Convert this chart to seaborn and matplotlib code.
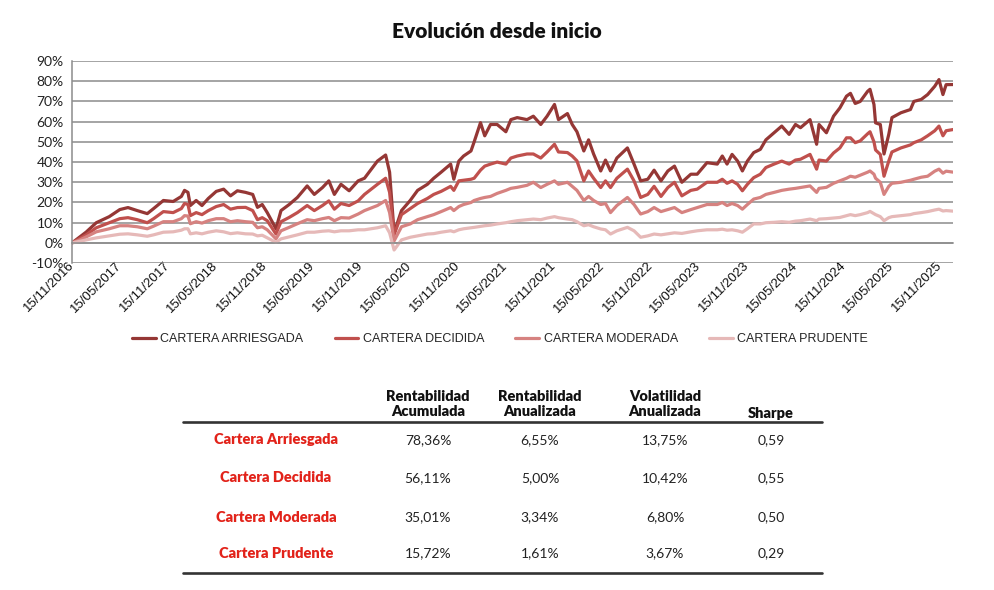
import pandas as pd
import numpy as np
import seaborn as sns
import matplotlib.pyplot as plt
import matplotlib.dates as mdates
from matplotlib.lines import Line2D
from matplotlib.ticker import FuncFormatter

# series (percent since start)
dates = ['2016-11-15', '2016-12-15', '2017-01-08', '2017-02-15', '2017-04-05', '2017-05-15', '2017-06-15',
         '2017-07-20', '2017-08-27', '2017-09-20', '2017-10-27', '2017-12-03', '2018-01-03', '2018-01-15',
         '2018-01-28', '2018-02-06', '2018-02-28', '2018-03-22', '2018-04-15', '2018-05-15', '2018-06-12',
         '2018-07-08', '2018-08-03', '2018-09-03', '2018-09-30', '2018-10-18', '2018-11-05', '2018-11-24',
         '2018-12-27', '2019-01-15', '2019-02-15', '2019-03-18', '2019-04-24', '2019-05-21', '2019-06-21',
         '2019-07-15', '2019-08-05', '2019-08-30', '2019-09-30', '2019-11-03', '2019-11-27', '2020-01-15',
         '2020-02-15', '2020-03-01', '2020-03-18', '2020-04-15', '2020-05-18', '2020-06-15', '2020-07-22',
         '2020-08-15', '2020-09-12', '2020-10-18', '2020-10-30', '2020-11-18', '2020-12-06', '2021-01-03',
         '2021-01-15', '2021-02-08', '2021-02-24', '2021-03-18', '2021-04-12', '2021-05-15', '2021-06-03',
         '2021-06-27', '2021-08-03', '2021-08-27', '2021-09-24', '2021-10-18', '2021-11-15', '2021-11-30',
         '2022-01-03', '2022-01-21', '2022-02-08', '2022-03-06', '2022-03-24', '2022-04-12', '2022-05-09',
         '2022-05-27', '2022-06-15', '2022-07-09', '2022-08-18', '2022-09-12', '2022-10-07', '2022-11-03',
         '2022-11-27', '2022-12-23', '2023-01-18', '2023-02-12', '2023-03-12', '2023-04-15', '2023-05-09',
         '2023-06-15', '2023-07-24', '2023-08-12', '2023-08-30', '2023-09-18', '2023-10-09', '2023-10-27',
         '2023-11-15', '2023-12-09', '2024-01-03', '2024-01-24', '2024-02-24', '2024-03-24', '2024-04-21',
         '2024-05-15', '2024-06-03', '2024-07-09', '2024-08-03', '2024-08-12', '2024-09-09', '2024-10-06',
         '2024-10-30', '2024-11-24', '2024-12-09', '2024-12-27', '2025-01-15', '2025-02-12', '2025-02-21',
         '2025-03-08', '2025-03-14', '2025-04-01', '2025-04-15', '2025-05-03', '2025-05-15', '2025-06-18',
         '2025-07-24', '2025-08-06', '2025-09-03', '2025-09-27', '2025-10-24', '2025-11-09', '2025-11-24',
         '2025-12-06', '2026-01-02']

arriesgada = [0, 3, 5.4, 10, 13, 16.5, 17.5, 16, 14.5, 17, 21, 20.5, 23, 26, 25, 18.5, 21, 18.5, 22, 25.5,
              26.6, 23.3, 25.8, 25, 24, 17.6, 19, 15, 7, 16, 19, 22.5, 28.2, 24, 27.4, 30.7, 24, 29, 25.8,
              30.7, 32, 40.5, 43.5, 35, 5, 16, 21, 26, 29, 32, 35, 39, 31.5, 40.5, 43, 45.5, 50, 59.5, 53,
              58.6, 58.6, 55, 61, 62, 61, 62.7, 58.6, 62.7, 68.5, 61, 64, 58.6, 55, 45.5, 51, 44, 35.6, 41,
              35.6, 42, 47, 39, 30.7, 31.5, 36, 30.7, 35.6, 38, 30, 34, 34, 39.7, 39, 43, 39, 43.8, 40.5,
              35.6, 40.5, 44.7, 46.3, 51, 54.5, 57.8, 53.7, 58.6, 57, 61, 48.8, 58.6, 54.5, 62.7, 66.8, 72.6,
              74, 69, 70, 75, 76, 68.5, 59.4, 58.6, 44, 53.7, 62, 64.4, 66, 70, 71, 73.4, 77.5, 80.8, 73.4,
              78.3, 78.36]
decidida = [0, 2.2, 4, 7.5, 10, 12, 12.5, 11.5, 10, 12, 15.5, 15, 17, 19.5, 19, 13.5, 15, 14, 16, 18,
            19, 16.7, 17.5, 17.6, 16, 11.5, 12.5, 11, 4.4, 10.5, 12.6, 15, 18.5, 16, 18.5, 20.8, 16.7, 19.5,
            18.5, 20.8, 24, 29, 32, 25, 4, 14, 17, 19.5, 22, 24, 25.5, 28, 26, 30.7, 31, 31.5, 32, 36, 38,
            39, 40, 39, 42, 43, 44, 44, 42, 45, 48.8, 45, 44.7, 43, 40.6, 30.7, 35.6, 32, 27.4, 30.7, 27.4,
            32, 36.5, 30.7, 22.5, 24, 28, 23, 27.4, 30, 23.3, 26, 26.6, 30, 30, 31.5, 29.5, 30.7, 29, 25.8,
            29, 32.3, 34, 37.3, 39, 40.5, 39, 41, 41.4, 43.8, 36.5, 41, 40.5, 44.5, 47, 52, 52, 49.6, 50.5,
            54, 55, 50, 46, 43.8, 33, 40.5, 45, 47, 48.5, 49.6, 51, 53, 55.5, 57.8, 53, 55.5, 56.11]
moderada = [0, 1.5, 3, 5.5, 7, 8.5, 8.5, 8, 7, 8.3, 10.5, 10.5, 12, 13.5, 13.3, 9.5, 10.5, 9.8, 11, 12,
            12, 10.5, 11, 10.5, 10.2, 7.5, 8, 6.5, 2, 6, 7.7, 9.5, 11.5, 11, 12, 12.6, 11, 12.5, 12.3, 14.3,
            16, 18.5, 21, 15, 1, 8, 9.4, 11.5, 13, 14, 15.5, 17.5, 16, 18, 19, 20, 21, 22, 22.5, 23, 24.5,
            26, 27, 27.5, 28.5, 30, 27.4, 29, 30.7, 29, 30, 28, 26, 21, 23, 21, 19, 19.5, 15, 18.5, 22.5, 19,
            14.3, 15.5, 17.5, 15.5, 16.5, 17.5, 15, 16.5, 17.5, 19, 19, 20, 18.5, 19.5, 18.5, 16.7, 19, 21.7,
            22.5, 24, 25, 26, 26.6, 27, 27.4, 28.2, 25, 27, 27.5, 29.5, 30.7, 32, 33, 32.5, 33.5, 35, 35.6,
            34, 32, 30, 24, 28, 29.5, 30, 31, 31.5, 32.5, 33, 35.5, 36.5, 34.5, 35.5, 35.01]
prudente = [0, 0.8, 1.5, 2.5, 3.5, 4.3, 4.5, 4, 3.3, 4, 5.3, 5.5, 6.3, 7, 7, 4.5, 5, 4.5, 5.3, 6, 5.5,
            4.6, 5, 4.5, 4.4, 3.5, 3.8, 2.5, 0.3, 2, 3, 4, 5.3, 5.3, 5.8, 6, 5.5, 6, 6, 6.5, 6.5, 7.5, 8.5,
            5, -3.5, 1.5, 2.8, 3.5, 4.4, 4.6, 5.3, 6, 5.5, 6.5, 7, 7.5, 7.7, 8.2, 8.5, 8.8, 9.4, 10, 10.5,
            11, 11.5, 11.8, 11.5, 12.3, 13, 12.5, 11.8, 11.5, 10.5, 8.5, 9, 8, 6.9, 6.5, 4.4, 6, 7.7, 6, 2.8,
            3.5, 4.4, 4, 4.5, 5, 4.7, 5.5, 6, 6.5, 6.5, 6.8, 6.3, 6.5, 6, 5.3, 7, 9.4, 9.4, 10, 10.2, 10.5,
            10.2, 10.8, 11, 11.8, 11, 11.8, 12, 12.3, 12.6, 13.5, 14, 13.5, 14, 15, 15.6, 14.5, 14, 13, 11,
            12.5, 13, 13.5, 14, 14.5, 15, 15.5, 16.3, 16.7, 15.8, 16, 15.72]

series_names = ['CARTERA ARRIESGADA', 'CARTERA DECIDIDA', 'CARTERA MODERADA', 'CARTERA PRUDENTE']
colors = ['#953735', '#C0504D', '#D68280', '#E6B9B8']

tick_dates = pd.date_range('2016-11-15', '2025-11-15', freq=pd.DateOffset(months=6))

# summary table
row_labels = ['Cartera Arriesgada', 'Cartera Decidida', 'Cartera Moderada', 'Cartera Prudente']
col_headers = ['Rentabilidad\nAcumulada', 'Rentabilidad\nAnualizada', 'Volatilidad\nAnualizada', 'Sharpe']
rent_acumulada = ['78,36%', '56,11%', '35,01%', '15,72%']
rent_anualizada = ['6,55%', '5,00%', '3,34%', '1,61%']
vol_anualizada = ['13,75%', '10,42%', '6,80%', '3,67%']
sharpe = ['0,59', '0,55', '0,50', '0,29']

df = pd.DataFrame({'fecha': pd.to_datetime(dates),
                   series_names[0]: arriesgada,
                   series_names[1]: decidida,
                   series_names[2]: moderada,
                   series_names[3]: prudente})
df_long = df.melt(id_vars='fecha', var_name='cartera', value_name='valor')

sns.set_style('white')
plt.rcParams['font.family'] = ['Lato', 'DejaVu Sans']

fig = plt.figure(figsize=(9.94, 5.90), dpi=100)
ax = fig.add_axes([0.0724, 0.554, 0.8866, 0.3426])

sns.lineplot(data=df_long, x='fecha', y='valor', hue='cartera', hue_order=series_names,
             palette=colors, linewidth=2.3, ax=ax)

ax.set_ylim(-10, 90)
ax.set_yticks(np.arange(-10, 91, 10))
ax.yaxis.set_major_formatter(FuncFormatter(lambda v, p: f'{v:.0f}%'))
ax.set_xlim(pd.Timestamp('2016-11-15'), pd.Timestamp('2026-01-02'))
ax.set_xticks(tick_dates)
ax.xaxis.set_major_formatter(mdates.DateFormatter('%d/%m/%Y'))
ax.set_xlabel('')
ax.set_ylabel('')

ax.grid(axis='y', color='#8c8c8c', linewidth=1.1)
ax.grid(axis='x', visible=False)
ax.set_axisbelow(True)
for s in ['top', 'right']:
    ax.spines[s].set_visible(False)
ax.spines['left'].set_color('#8c8c8c')
ax.spines['left'].set_linewidth(1.1)
ax.spines['bottom'].set_position(('data', 0))
ax.spines['bottom'].set_color('#8c8c8c')
ax.spines['bottom'].set_linewidth(1.1)

ax.tick_params(axis='y', length=3, color='#8c8c8c', labelsize=10, labelcolor='#222222', pad=3)
ax.tick_params(axis='x', length=4, color='#8c8c8c', labelsize=9.5, labelcolor='#111111', pad=11)
for lab in ax.get_xticklabels():
    lab.set_family(['Liberation Sans', 'DejaVu Sans'])
    lab.set_rotation(45)
    lab.set_ha('right')
    lab.set_va('center')
    lab.set_rotation_mode('anchor')

ax.legend(loc='center', bbox_to_anchor=(0.503, 0.4254), bbox_transform=fig.transFigure, ncol=4,
          frameon=False, handlelength=1.9, handletextpad=0.35, columnspacing=2.5,
          prop={'family': ['Liberation Sans', 'DejaVu Sans'], 'size': 9})

fig.text(0.5, 1 - 32 / 590, 'Evolución desde inicio', ha='center', va='center',
         fontsize=15, fontweight='heavy', color='#111111')

# table
col_x = [428 / 994, 540 / 994, 665 / 994, 771 / 994]
row_y = [1 - v / 590 for v in (440, 478, 517, 553)]
label_x = 276 / 994
for x, h in zip(col_x, col_headers):
    fig.text(x, 1 - 404 / 590 if '\n' in h else 1 - 413 / 590, h, ha='center', va='center',
             fontsize=10.5, fontweight='heavy', color='#111111', linespacing=1.15)
fig.add_artist(Line2D([183 / 994, 822 / 994], [1 - 422 / 590] * 2, color='#333333', linewidth=1.9))
fig.add_artist(Line2D([183 / 994, 822 / 994], [1 - 573 / 590] * 2, color='#333333', linewidth=1.9))
for i, name in enumerate(row_labels):
    fig.text(label_x, row_y[i], name, ha='center', va='center', fontsize=10.5,
             fontweight='heavy', color='#E2231A')
    for x, col in zip(col_x, [rent_acumulada, rent_anualizada, vol_anualizada, sharpe]):
        fig.text(x, row_y[i], col[i], ha='center', va='center', fontsize=10, color='#222222')

fig.savefig('out.png', dpi=100)
